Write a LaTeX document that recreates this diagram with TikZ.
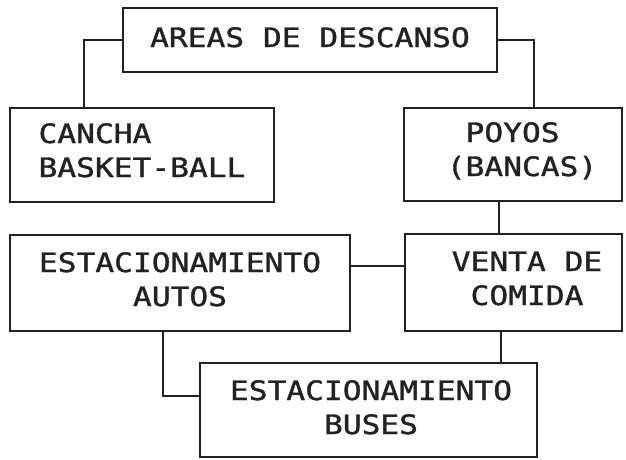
\documentclass[tikz,border=0pt]{standalone}
\usepackage{fontspec}
\newfontfamily\plotfont[FakeStretch=1.17,FakeBold=1.3]{DejaVu Sans Mono}
\newcommand\blockcenter[1]{\vtop{\halign{\hfil##\hfil\cr#1\crcr}}}
\newcommand\blockleft[1]{\vtop{\halign{##\hfil\cr#1\crcr}}}
\definecolor{ink}{HTML}{222222}
\tikzset{
  box/.style={draw=ink, line width=2.4pt, inner sep=0pt, text height=20pt,
    font=\plotfont\fontsize{26.7pt}{34pt}\selectfont, text=ink},
  conn/.style={draw=ink, line width=2.4pt}
}
\begin{document}
\begin{tikzpicture}[x=1pt,y=-1pt]
\useasboundingbox (0,0) rectangle (626,459);
\fill[white] (0,0) rectangle (626,459);

\node[box, minimum width=374pt, minimum height=64pt, text depth=6pt] (areas) at (310,40) {AREAS DE DESCANSO};
\node[box, minimum width=264pt, minimum height=94pt, text depth=44pt] (cancha) at (142,155) {\blockleft{CANCHA\cr BASKET-BALL}};
\node[box, minimum width=218pt, minimum height=93pt, text depth=45pt] (poyos) at (513,154.5) {\hspace*{18pt}\blockleft{\hphantom{(}POYOS\cr (BANCAS)}};
\node[box, minimum width=340pt, minimum height=96pt, text depth=42pt] (autos) at (180,283) {\blockcenter{ESTACIONAMIENTO\cr AUTOS}};
\node[box, minimum width=217pt, minimum height=97pt, text depth=43pt] (venta) at (513.5,282.5) {\hspace*{27pt}\blockcenter{VENTA DE\cr COMIDA}};
\node[box, minimum width=337pt, minimum height=94pt, text depth=40pt] (buses) at (368.5,410) {\hspace*{5pt}\blockcenter{ESTACIONAMIENTO\cr BUSES}};

\coordinate (k1) at (84,0);
\coordinate (k2) at (534,0);
\coordinate (k3) at (499,0);
\coordinate (k4) at (0,266);
\coordinate (k5) at (501,0);
\coordinate (k6) at (163,0);
\coordinate (k7) at (0,396);

\draw[conn] (areas.west) -| (cancha.north -| k1);
\draw[conn] (areas.east) -| (poyos.north -| k2);
\draw[conn] (poyos.south -| k3) -- (venta.north -| k3);
\draw[conn] (autos.east |- k4) -- (venta.west |- k4);
\draw[conn] (venta.south -| k5) -- (buses.north -| k5);
\draw[conn] (autos.south -| k6) |- (buses.west |- k7);
\end{tikzpicture}
\end{document}
